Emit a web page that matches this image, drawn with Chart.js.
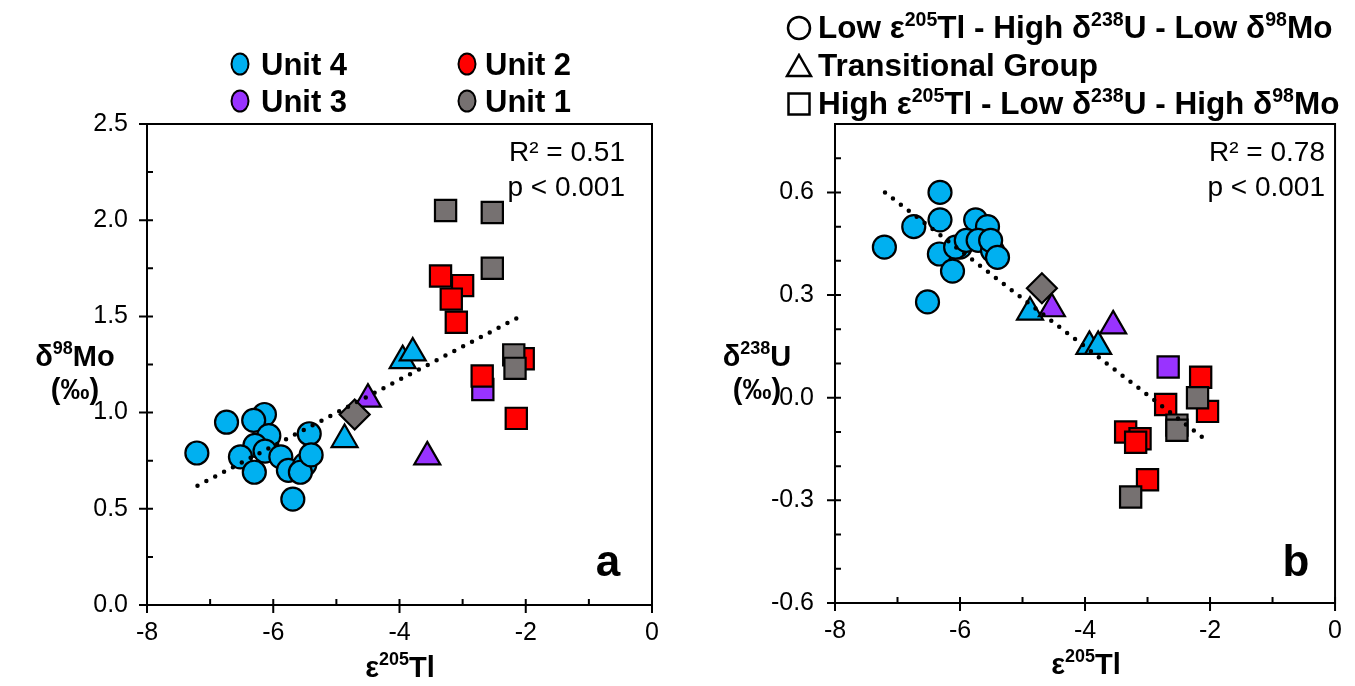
<!DOCTYPE html>
<html>
<head>
<meta charset="utf-8">
<script src="https://cdn.jsdelivr.net/npm/chart.js@4.4.0/dist/chart.umd.min.js"></script>
<style>
  body { margin: 0; background: #fff; }
  #page { position: relative; width: 1355px; height: 686px; font-family: 'Liberation Sans', Arial, sans-serif; color: #000; overflow: hidden; }
  #page canvas { position: absolute; top: 0; }
  .t { position: absolute; white-space: nowrap; line-height: 1; transform: translate(-50%, -50%); }
  .b { font-weight: bold; }
  .l { transform: translate(0, -50%); }
  .r { transform: translate(-100%, -50%); }
  sup { font-size: 62%; vertical-align: 0.62em; line-height: 0; }
  .dot { position: absolute; width: 15px; height: 19px; border: 2.5px solid #000; border-radius: 50%; transform: translate(-50%, -50%); }
  .sym { position: absolute; transform: translate(-50%, -50%); }
</style>
</head>
<body>
<div id="page">
  <canvas id="chartMo" width="680" height="686" style="left:0"></canvas>
  <canvas id="chartU" width="675" height="686" style="left:680px"></canvas>

  <!-- unit legend (panel a) -->
  <div class="dot" style="left:240px;top:64px;background:#00b0f0"></div>
  <div class="t b l" style="left:261px;top:64px;font-size:31px">Unit 4</div>
  <div class="dot" style="left:467px;top:64px;background:#ff0000"></div>
  <div class="t b l" style="left:485px;top:64px;font-size:31px">Unit 2</div>
  <div class="dot" style="left:240px;top:101px;background:#9933ff"></div>
  <div class="t b l" style="left:261px;top:101px;font-size:31px">Unit 3</div>
  <div class="dot" style="left:467px;top:101px;background:#767171"></div>
  <div class="t b l" style="left:485px;top:101px;font-size:31px">Unit 1</div>

  <!-- group legend (panel b) -->
  <svg class="sym" style="left:799px;top:28px" width="27" height="27"><circle cx="13.5" cy="13.5" r="11" fill="none" stroke="#000" stroke-width="2.5"/></svg>
  <div class="t b l" style="left:818px;top:28px;font-size:31.5px">Low &#949;<sup>205</sup>Tl - High &#948;<sup>238</sup>U - Low &#948;<sup>98</sup>Mo</div>
  <svg class="sym" style="left:799px;top:66px" width="28" height="26"><polygon points="14,2 26,23 2,23" fill="none" stroke="#000" stroke-width="2.5"/></svg>
  <div class="t b l" style="left:818px;top:66px;font-size:31.5px">Transitional Group</div>
  <svg class="sym" style="left:799px;top:104px" width="26" height="26"><rect x="2.5" y="2.5" width="21" height="21" fill="none" stroke="#000" stroke-width="2.5"/></svg>
  <div class="t b l" style="left:818px;top:104px;font-size:31.5px">High &#949;<sup>205</sup>Tl - Low &#948;<sup>238</sup>U - High &#948;<sup>98</sup>Mo</div>

  <!-- axis titles -->
  <div class="t b" style="left:75px;top:356px;font-size:29px">&#948;<sup>98</sup>Mo</div>
  <div class="t b" style="left:75px;top:389px;font-size:29px">(&#8240;)</div>
  <div class="t b" style="left:400px;top:667px;font-size:29px">&#949;<sup>205</sup>Tl</div>
  <div class="t b" style="left:757px;top:356px;font-size:29px">&#948;<sup>238</sup>U</div>
  <div class="t b" style="left:757px;top:389px;font-size:29px">(&#8240;)</div>
  <div class="t b" style="left:1086px;top:664px;font-size:29px">&#949;<sup>205</sup>Tl</div>

  <!-- fit statistics and panel letters -->
  <div class="t r" style="left:625px;top:152px;font-size:28px">R² = 0.51</div>
  <div class="t r" style="left:625px;top:187px;font-size:28px">p &lt; 0.001</div>
  <div class="t r" style="left:1325px;top:152px;font-size:28px">R² = 0.78</div>
  <div class="t r" style="left:1325px;top:187px;font-size:28px">p &lt; 0.001</div>
  <div class="t b" style="left:608px;top:561px;font-size:44px">a</div>
  <div class="t b" style="left:1296px;top:561px;font-size:44px">b</div>
</div>

<script>
// ---- panel a: d98Mo vs e205Tl ----
const moU4CircTl = [-7.21, -6.74, -6.14, -6.31, -6.07, -6.29, -6.52, -6.13, -5.88, -6.30, -5.76, -5.50, -5.57, -5.43, -5.40, -5.69];
const moU4CircMo = [0.79, 0.95, 0.99, 0.96, 0.88, 0.83, 0.77, 0.80, 0.77, 0.69, 0.70, 0.73, 0.69, 0.89, 0.78, 0.55];
const moU4TriTl = [-4.87, -3.95, -3.79];
const moU4TriMo = [0.86, 1.27, 1.31];
const moU3TriTl = [-4.50, -3.56];
const moU3TriMo = [1.07, 0.77];
const moU3SqTl = [-2.68];
const moU3SqMo = [1.12];
const moU2SqTl = [-3.35, -3.00, -3.18, -3.10, -2.69, -2.04, -2.15];
const moU2SqMo = [1.71, 1.66, 1.59, 1.47, 1.19, 1.28, 0.97];
const moU1SqTl = [-3.27, -2.53, -2.53, -2.19, -2.17];
const moU1SqMo = [2.05, 2.04, 1.75, 1.30, 1.23];
const moU1DiaTl = [-4.71];
const moU1DiaMo = [0.99];
const moFitTl = [-7.20, -2.03];
const moFitMo = [0.62, 1.51];

// ---- panel b: d238U vs e205Tl ----
const uU4CircTl = [-7.21, -6.74, -6.32, -6.32, -6.33, -6.12, -6.00, -6.07, -5.75, -5.56, -5.90, -5.71, -5.48, -5.51, -5.40, -6.52];
const uU4CircU = [0.44, 0.50, 0.60, 0.52, 0.42, 0.37, 0.44, 0.44, 0.52, 0.50, 0.46, 0.46, 0.43, 0.46, 0.41, 0.28];
const uU4TriTl = [-4.88, -3.93, -3.79];
const uU4TriU = [0.25, 0.15, 0.15];
const uU3TriTl = [-4.53, -3.55];
const uU3TriU = [0.26, 0.21];
const uU3SqTl = [-2.67];
const uU3SqU = [0.09];
const uU2SqTl = [-2.15, -2.71, -2.04, -3.35, -3.12, -3.19, -3.00];
const uU2SqU = [0.06, -0.02, -0.04, -0.10, -0.12, -0.13, -0.24];
const uU1SqTl = [-2.20, -2.53, -2.53, -3.27];
const uU1SqU = [0.00, -0.08, -0.095, -0.29];
const uU1DiaTl = [-4.69];
const uU1DiaU = [0.32];
const uFitTl = [-7.20, -2.09];
const uFitU = [0.60, -0.12];

const BLUE = '#00b0f0', RED = '#ff0000', PURPLE = '#9933ff', GRAY = '#767171';
const FONT = "'Liberation Sans', Arial, sans-serif";

function pts(xs, ys) {
  return xs.map((x, i) => ({ x: x, y: ys[i] }));
}

function markers(label, xs, ys, color, style, radius, rotation) {
  return {
    label: label,
    data: pts(xs, ys),
    backgroundColor: color,
    borderColor: '#000',
    borderWidth: 2.2,
    pointStyle: style,
    pointRadius: radius,
    pointHoverRadius: radius,
    pointRotation: rotation || 0
  };
}

function trend(xs, ys) {
  return {
    label: 'fit',
    data: pts(xs, ys),
    showLine: true,
    pointRadius: 0,
    borderColor: '#000',
    borderWidth: 4.5,
    borderDash: [0, 10],
    borderCapStyle: 'round',
    fill: false
  };
}

// box around the plot area plus tick marks (major ones cross the axis)
const frameTicks = {
  id: 'frameTicks',
  beforeDatasetsDraw(chart) {
    const ctx = chart.ctx, a = chart.chartArea;
    const x = chart.scales.x, y = chart.scales.y;
    ctx.save();
    ctx.strokeStyle = '#000';
    ctx.lineWidth = 2;
    ctx.strokeRect(a.left, a.top, a.right - a.left, a.bottom - a.top);
    ctx.beginPath();
    x.ticks.forEach(t => {
      const px = x.getPixelForValue(t.value);
      ctx.moveTo(px, a.bottom - 6);
      ctx.lineTo(px, t.label !== '' ? a.bottom + 8 : a.bottom);
    });
    y.ticks.forEach(t => {
      const py = y.getPixelForValue(t.value);
      ctx.moveTo(a.left + 6, py);
      ctx.lineTo(t.label !== '' ? a.left - 8 : a.left, py);
    });
    ctx.stroke();
    ctx.restore();
  }
};

function makeChart(id, datasets, yMin, yMax, yStep, yLabel, yWidth, xHeight, padRight, yPad) {
  return new Chart(document.getElementById(id), {
    type: 'scatter',
    data: { datasets: datasets },
    options: {
      responsive: false,
      animation: false,
      events: [],
      layout: { padding: { left: 0, top: 124, right: padRight, bottom: 0 } },
      plugins: { legend: { display: false }, tooltip: { enabled: false } },
      scales: {
        x: {
          type: 'linear', min: -8, max: 0,
          grid: { display: false, drawTicks: false },
          border: { display: false },
          ticks: {
            stepSize: 1, autoSkip: false, maxRotation: 0, padding: 13,
            color: '#000', font: { family: FONT, size: 25 },
            callback: v => (Math.round(v) % 2 === 0 ? String(Math.round(v)) : '')
          },
          afterFit: s => { s.height = xHeight; }
        },
        y: {
          type: 'linear', min: yMin, max: yMax,
          grid: { display: false, drawTicks: false },
          border: { display: false },
          ticks: {
            stepSize: yStep, autoSkip: false, padding: yPad,
            color: '#000', font: { family: FONT, size: 25 },
            callback: yLabel
          },
          afterFit: s => { s.width = yWidth; }
        }
      }
    },
    plugins: [frameTicks]
  });
}

function onStep(v, step) {
  const k = v / step;
  return Math.abs(k - Math.round(k)) < 1e-6;
}

makeChart('chartMo', [
  trend(moFitTl, moFitMo),
  markers('Unit 1', moU1DiaTl, moU1DiaMo, GRAY, 'rectRot', 15),
  markers('Unit 1', moU1SqTl, moU1SqMo, GRAY, 'rect', 15),
  markers('Unit 2', moU2SqTl, moU2SqMo, RED, 'rect', 15),
  markers('Unit 3', moU3SqTl, moU3SqMo, PURPLE, 'rect', 15),
  markers('Unit 3', moU3TriTl, moU3TriMo, PURPLE, 'triangle', 15),
  markers('Unit 4', moU4TriTl, moU4TriMo, BLUE, 'triangle', 15),
  markers('Unit 4', moU4CircTl, moU4CircMo, BLUE, 'circle', 11.5)
], 0, 2.5, 0.25, v => (onStep(v, 0.5) ? v.toFixed(1) : ''), 147, 81, 28, 19);

makeChart('chartU', [
  trend(uFitTl, uFitU),
  markers('Unit 1', uU1DiaTl, uU1DiaU, GRAY, 'rectRot', 15),
  markers('Unit 1', uU1SqTl, uU1SqU, GRAY, 'rect', 15),
  markers('Unit 2', uU2SqTl, uU2SqU, RED, 'rect', 15),
  markers('Unit 3', uU3SqTl, uU3SqU, PURPLE, 'rect', 15),
  markers('Unit 3', uU3TriTl, uU3TriU, PURPLE, 'triangle', 15),
  markers('Unit 4', uU4TriTl, uU4TriU, BLUE, 'triangle', 15),
  markers('Unit 4', uU4CircTl, uU4CircU, BLUE, 'circle', 11.5)
], -0.6, 0.8, 0.1, v => (onStep(v, 0.3) ? (Math.abs(v) < 1e-9 ? '0.0' : v.toFixed(1)) : ''), 155, 83, 17, 21);
</script>
</body>
</html>
